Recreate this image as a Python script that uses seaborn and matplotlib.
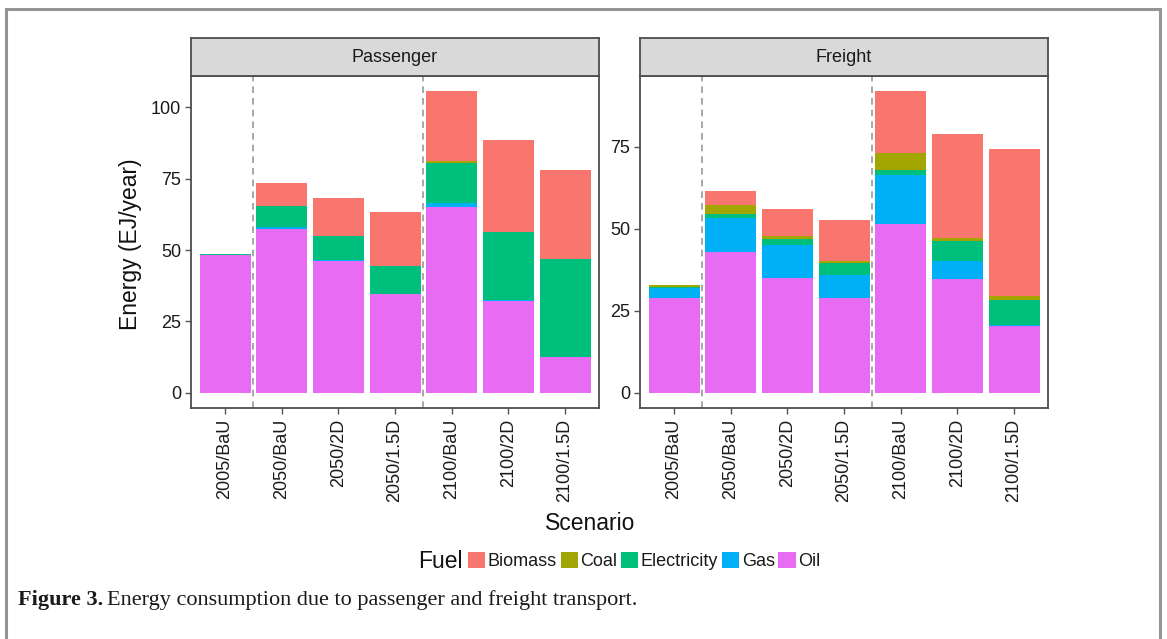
import numpy as np
import pandas as pd
import matplotlib
matplotlib.use("Agg")
import matplotlib.pyplot as plt
import matplotlib.patches as mpatches
import seaborn as sns

# ---- data -------------------------------------------------------------
scenarios = ["2005/BaU", "2050/BaU", "2050/2D", "2050/1.5D",
             "2100/BaU", "2100/2D", "2100/1.5D"]
fuels = ["Biomass", "Coal", "Electricity", "Gas", "Oil"]
fuel_colors = ["#F8766D", "#A3A500", "#00BF7D", "#00B0F6", "#E76BF3"]

passenger_oil = [48.1, 57.5, 46.3, 34.5, 65.0, 32.0, 12.5]
passenger_gas = [0.1, 0.7, 0.3, 0.2, 1.4, 0.5, 0.1]
passenger_electricity = [0.4, 7.3, 8.4, 9.8, 13.9, 23.8, 34.3]
passenger_coal = [0.0, 0.0, 0.0, 0.0, 0.7, 0.0, 0.0]
passenger_biomass = [0.0, 7.9, 13.2, 18.7, 24.6, 32.1, 31.0]

freight_oil = [28.9, 42.9, 35.1, 28.8, 51.5, 34.7, 20.4]
freight_gas = [3.0, 10.4, 10.1, 7.0, 14.9, 5.5, 0.3]
freight_electricity = [0.5, 1.1, 1.8, 3.8, 1.5, 6.1, 7.5]
freight_coal = [0.6, 2.8, 0.7, 0.5, 5.1, 1.0, 1.3]
freight_biomass = [0.0, 4.4, 8.3, 12.7, 19.0, 31.6, 44.7]

panels = {
    "Passenger": {"Oil": passenger_oil, "Gas": passenger_gas,
                  "Electricity": passenger_electricity,
                  "Coal": passenger_coal, "Biomass": passenger_biomass},
    "Freight": {"Oil": freight_oil, "Gas": freight_gas,
                "Electricity": freight_electricity,
                "Coal": freight_coal, "Biomass": freight_biomass},
}

rows = []
for panel, series in panels.items():
    for fuel, vals in series.items():
        for sc, v in zip(scenarios, vals):
            rows.append({"Transport": panel, "Scenario": sc, "Fuel": fuel, "Energy": v})
df = pd.DataFrame(rows)

# ---- style ------------------------------------------------------------
sns.set_theme(style="white")
plt.rcParams["font.family"] = ["Liberation Sans", "DejaVu Sans"]

W, H = 1167, 639
fig = plt.figure(figsize=(W / 100, H / 100), dpi=100)


def fx(px):
    return px / W


def fy(py):
    return 1 - py / H


border_col = "#4D4D4D"
stack_order = ["Oil", "Gas", "Electricity", "Coal", "Biomass"]
color_of = dict(zip(fuels, fuel_colors))

panel_boxes = {"Passenger": (191, 599), "Freight": (640, 1048)}
top_px, bot_px, strip_top = 76, 408, 38

for panel, (x0, x1) in panel_boxes.items():
    ax = fig.add_axes([fx(x0), fy(bot_px), fx(x1 - x0), (bot_px - top_px) / H])
    sub = df[df["Transport"] == panel].pivot(index="Scenario", columns="Fuel",
                                             values="Energy").loc[scenarios]
    cum = sub[stack_order].cumsum(axis=1)
    # draw cumulative totals from the top layer down so each layer shows
    for fuel in reversed(stack_order):
        d = pd.DataFrame({"Scenario": scenarios, "Energy": cum[fuel].values})
        sns.barplot(data=d, x="Scenario", y="Energy", order=scenarios,
                    color=color_of[fuel], width=0.9, saturation=1,
                    ax=ax, linewidth=0)
    for xv in (0.5, 3.5):
        ax.axvline(xv, color="#9A9A9A", lw=1.2, ls=(0, (4, 3)), zorder=0.5)

    top = cum["Biomass"].max()
    ax.set_ylim(-0.05 * top, top * 1.05)
    ax.set_xlim(-0.6, len(scenarios) - 0.4)
    ax.set_yticks([0, 25, 50, 75, 100] if top > 100 else [0, 25, 50, 75])
    ax.set_xlabel("")
    ax.set_ylabel("")
    ax.tick_params(axis="both", which="both", direction="out", length=4,
                   width=1, color="#555555", labelsize=13,
                   labelcolor="#1A1A1A", pad=3, bottom=True, left=True)
    ax.tick_params(axis="x", pad=4)
    plt.setp(ax.get_xticklabels(), rotation=90)
    for s in ax.spines.values():
        s.set_color(border_col)
        s.set_linewidth(1.3)
    ax.grid(False)

    # facet strip
    sax = fig.add_axes([fx(x0), fy(top_px), fx(x1 - x0), (top_px - strip_top) / H])
    sax.set_facecolor("#D9D9D9")
    sax.set_xticks([])
    sax.set_yticks([])
    for s in sax.spines.values():
        s.set_color(border_col)
        s.set_linewidth(1.3)
    sax.text(0.5, 0.5, panel, ha="center", va="center", fontsize=13,
             color="#1A1A1A", transform=sax.transAxes)

# axis titles
fig.text(fx(130), fy(244), "Energy (EJ/year)", rotation=90, ha="center",
         va="center", fontsize=16.5, color="#111111")
fig.text(fx(590), fy(524), "Scenario", ha="center", va="center",
         fontsize=16.5, color="#111111")

# legend along the bottom
fig.text(fx(418), fy(562), "Fuel", ha="left", va="center", fontsize=16.5,
         color="#111111")
handles = [mpatches.Patch(facecolor=c, edgecolor="none", label=f)
           for f, c in zip(fuels, fuel_colors)]
fig.legend(handles=handles, loc="center left",
           bbox_to_anchor=(fx(468), fy(561)), ncol=5, frameon=False,
           fontsize=13, handlelength=0.95, handleheight=0.95,
           handletextpad=0.15, columnspacing=0.2, borderpad=0,
           borderaxespad=0, labelcolor="#1A1A1A")

# outer frame of the figure panel
frame = mpatches.Rectangle((fx(6), fy(700)), fx(1160 - 6), (700 - 9) / H,
                           transform=fig.transFigure, fill=False,
                           edgecolor="#959595", lw=2.2, clip_on=False)
fig.patches.append(frame)

# caption
serif = ["Liberation Serif", "DejaVu Serif"]
t1 = fig.text(fx(18), fy(600), "Figure 3.", ha="left", va="center",
              fontsize=16, fontweight="bold", family=serif, color="#1A1A1A")
fig.canvas.draw()
bb = t1.get_window_extent()
fig.text((bb.x1 + 4) / W, fy(600), "Energy consumption due to passenger and freight transport.",
         ha="left", va="center", fontsize=16, family=serif, color="#1A1A1A")

fig.savefig("out.png", dpi=100)
